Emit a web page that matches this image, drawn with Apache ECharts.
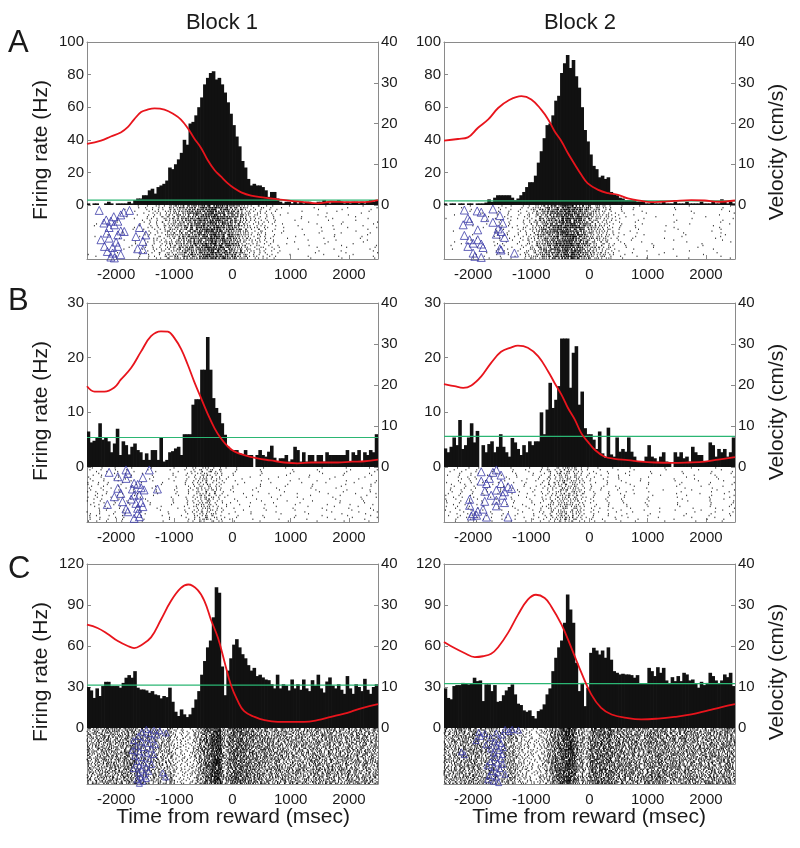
<!DOCTYPE html>
<html>
<head>
<meta charset="utf-8">
<script src="https://cdn.jsdelivr.net/npm/echarts@6/dist/echarts.min.js"></script>
<style>
html,body{margin:0;padding:0;background:#fff;}
#c{width:800px;height:848px;}
</style>
</head>
<body>
<div id="c"></div>
<script>
// ---- time base ----
const BIN = 50, T0 = -2500, T1 = 2500;
const xTickValues = [-2000, -1000, 0, 1000, 2000];

// ---- firing-rate histograms (Hz), 100 bins of 50 ms from -2500 ----
const histA1 = [1,0,1,1,0,0,1,2,1,0,1,1,1,1,2,1,
  3,4,4,6,6,9,10,7,11,12, 13,15,23,22,25,28,32,40,37,50, 51,55,60,66,74,78,81,82,77,78,
  74,69,63,56,49,42,36,27,23,16, 12,13,12,12,11,9,5,8,8,4,
  2,1,2,2,1,2,1,2,1,2, 2,1,1,2,2,3,2,1,2,2, 3,2,1,2,1,2,2,1,2,1, 2,3,2,3];
const histA2 = [1,0,1,1,0,1,1,0,1,1,0,1,1,1,
  1.5,3.5,2,4.5,6,6,6,6,6,4.5, 3,4,6,8,11,14,14,18,26,33, 41,49,50,55,64,67,81,87,92,84,
  89,79,72,60,46,39,31,24,22,17, 18,16,17,8,6.5,6,4.5,4,3,3, 3,3,2,2,2,
  1,1,2,1,1,1,2,1,1,1, 2,1,1,1,2,1,1,1,1,2, 1,1,1,2,1,1,3.5,2,1,2, 1];
const histB1 = [6.5,4.5,4.8,5.3,8,5,5.3,4.7,2.7,4.3, 7,2.2,4.7,4,2.3,3.7,4.3,3.1,2.7,1.3,
  2.5,1.3,3.1,3.1,1.3,5.4,1,1.3,2.7,2.9, 3.4,3.7,2.2,
  6,6,6,11.4,12.4,12.4,17.8,17.8,23.8,17.8,12.6,10.8,9.9,8,5.9,3.7,3.1,
  3.1,3.1,2.5,2.2,3.1,2.2,2.2,0,2.2,3.1, 2.2,1.9,2.8,3.9,1.7,1,1.6,1.6,2.2,1,
  1.4,3.7,3.1,1,2.7,1,2.2,2.2,1,2.2, 2.2,1,2.7,2.2,2.2,2.2,2.2,2.2,2.2,3.1,
  1,2.7,2.2,3.1,1,2.7,2.2,3.1,2.7,6];
const histB2 = [3.4,2.7,3.7,5.4,4,8.6,3.3,4,5.4,8, 4.5,6.6,0,4,2.7,4.2,4.7,2.7,3.7,6,
  3.7,2.7,1.9,5.3,4.5,3.3,2.2,4,2.7,4.7, 4,4.7,4.7,10,6,10.5,15.4,10.8,12.3,14.8,
  23.5,23.5,23.5,14.5,20.9,22.1,11.4,13.8,7.1,6, 6,5,3.3,6.5,2.5,1.7,7.2,2.3,1.9,5.4,
  2.8,3.3,2.8,5.4,2.8,1.9,1,1.1,1.1,1.9, 4,1.9,1.6,1,1.9,2.7,1,0.9,0,2.7,
  1.9,2.7,1.6,1.9,1,3.7,2.7,2.2,2.2,1, 1,4.5,4,1.9,3.3,2.7,3.3,1.9,2.7,5.4];
const histC1 = [30,27.5,22,29,23.4,30.7,33.8,33.8,30.7,30.7, 30.7,29.5,33,36.8,38.7,36.8,41.6,29.5,28.2,28.2,
  27.5,25.8,27,24.6,24,21.7,23.4,22.6,29.5,19.2, 11.9,8.8,13.6,10,8,10,14.8,20.9,27,
  39,49,59,64,81,103,99,45,24,42, 51,61,65,59,54,51,46,42,44,38, 39,
  37,35.5,35,32,29,39,29,32,31,27.5, 35.5,29,32,28,35.5,29,27,35,31,39,
  29,26,34,37,31,29,32,28,25,38, 29,25,32,30,27,36,28,25,30,32];
const histC2 = [29,22,21,30.7,31.4,31.4,33,32.4,31.9,32.4, 36.8,34.3,34.8,19.7,31.9,31.9,27,31.4,19.2,19.7,
  24,27.5,30,31.9,24.6,17.8,16.8,12.9,11.9,12.9, 8.8,7,12.4,13.6,17.3,24.6,29,41.6,51.4,59,
  64,77,97.6,86.7,77,47.7,27,33,16,29.5, 55,58.7,56.7,53.8,56.7,51.4,59,50,41.6,40.4,
  39.2,39.7,39.2,39.2,38.7,36.8,38.7,32.4,32.4,32.4, 44,41.6,38,44.5,40.4,44,34.8,32.4,37.2,34.3,
  38,34.3,40.4,39.2,34.8,35.5,32.4,29.5,33.8,31.4, 33,40.4,38,34.8,32.4,34.8,39.2,37.2,40.4,30.7];

// ---- velocity (cm/s) ----
const velTA1 = [-2500,-2260,-2090,-1920,-1800,-1690,-1570,-1460,-1340,-1170,-1000,-890,-770,-660,-540,-430,-310,-200,-80,30,150,320,550,780,1000,1230,1460,1690,1980,2270,2500];
const velVA1 = [15,15.8,16.8,17.8,19.1,21,22.8,23.4,23.7,23.4,22.2,21,18.9,16.4,14,11.1,8.6,7,5.3,4.1,3.1,2.3,1.8,1.4,1,0.7,0.4,0.8,0.7,0.7,1.2];
const velTA2 = [-2500,-2260,-2090,-1920,-1740,-1570,-1400,-1170,-1000,-830,-710,-600,-480,-370,-250,-140,-30,150,320,490,660,890,1060,1230,1460,1750,1980,2210,2500];
const velVA2 = [15.8,16.2,16.6,18.9,21,23.8,25.6,26.7,25.9,23.4,21,18.1,15.6,12.7,9.9,7.4,5.3,3.7,2.9,2.5,1.6,1,0.7,0.8,1,1.2,1.1,0.8,1.1];
const velTB1 = [-2500,-2370,-2200,-2030,-1920,-1740,-1570,-1400,-1230,-1110,-1000,-880,-770,-660,-540,-430,-310,-200,-80,30,200,430,660,890,1120,1350,1580,1810,2040,2270,2500];
const velVB1 = [19.7,18.4,18.4,19.4,21.3,24.2,28.2,31.9,33.1,33,31.5,28.7,25,20.9,16.8,13.1,9.5,7,5,3.8,2.9,2.1,1.6,1.1,0.9,1.1,1.1,1.1,1.3,1.4,1.8];
const velTB2 = [-2500,-2320,-2170,-2030,-1860,-1690,-1520,-1340,-1230,-1060,-880,-710,-600,-480,-370,-250,-140,-30,90,260,430,660,890,1120,1410,1690,1980,2210,2500];
const velVB2 = [20.2,19.7,19.3,19.9,22.1,25.4,28.1,29.2,29.6,29.1,27,23.3,20.5,17.6,14.4,11.5,8.2,6.2,4.2,2.5,2,1.7,1.3,1.1,1,1.1,1.3,1.8,2.4];
const velTC1 = [-2500,-2320,-2150,-1970,-1800,-1690,-1570,-1400,-1230,-1060,-890,-760,-600,-480,-370,-250,-140,-30,90,200,380,550,780,1000,1230,1460,1690,1920,2040,2210,2500];
const velVC1 = [25.2,24.4,23,21.2,20,19.5,20.2,22.1,26.4,30.9,34.1,35,33.7,30.9,26.4,22,16.3,10.6,6.6,4.1,2.7,1.9,1.5,1.5,1.5,1.9,2.7,3.5,4,4.8,5.8];
const velTC2 = [-2500,-2320,-2150,-1970,-1830,-1690,-1570,-1400,-1230,-1060,-920,-770,-660,-480,-310,-140,30,200,380,660,890,1180,1460,1750,2040,2270,2500];
const velVC2 = [21,19.5,18.3,17.3,17.5,18.1,19.7,23.2,27.6,31.3,32.5,31.7,29.7,25.2,19.5,13.5,8.2,4.9,3.3,2.4,2.1,2.3,2.7,3.3,4.3,5.1,5.8];

// ---- thresholds (Hz) ----
const thrA1 = 3, thrA2 = 2.5, thrB1 = 5.4, thrB2 = 5.6, thrC1 = 31.4, thrC2 = 32.4;

// ---- event markers [time ms, trial] ----
const triA1 = [[-2290,3],[-1770,3],[-1870,4],[-1920,5.5],[-2040,6.5],[-2170,8.3],[-2090,9],[-1970,9],[-2210,10],[-2030,11],[-2120,12.5],[-1920,14.4],[-1860,14.7],[-1600,12.5],[-2160,15.6],[-1970,16.6],[-1660,17.5],[-1490,16.6],[-2260,19.3],[-2120,18.4],[-2000,20.6],[-1540,20.2],[-2200,23],[-2060,23.6],[-1970,23],[-1630,24.3],[-1540,24.8],[-2150,25.8],[-2060,26.7],[-1920,27.6],[-2090,28.9],[-2030,29.4]];
const triA2 = [[-2150,2.8],[-1930,3.3],[-1860,4],[-1660,2.2],[-1800,7],[-2090,7.4],[-2060,8.8],[-1540,5.9],[-1660,9.6],[-2170,11],[-1490,10.1],[-1920,13.8],[-1570,13.3],[-1520,14.7],[-1600,16.2],[-2150,16.9],[-1460,18],[-2060,19.3],[-1920,19.3],[-2000,21.2],[-1860,21.7],[-2090,23],[-1830,23.6],[-1540,24.3],[-1520,25],[-2000,26.7],[-1290,26.7],[-1970,28.5],[-1860,29.1]];
const triB1 = [[-2120,2.9],[-1830,1.6],[-1800,3.5],[-1970,5.3],[-1830,6.2],[-1430,1.6],[-1540,5.8],[-1690,8.9],[-1630,9.5],[-1570,11.3],[-1520,12.5],[-1970,11.6],[-1720,12],[-1290,12],[-2030,16.2],[-1690,15.3],[-1920,14.4],[-1600,15.3],[-1740,17.5],[-1890,18.9],[-2150,20.4],[-1660,19.8],[-1570,19.3],[-1830,22.9],[-1630,22.5],[-1540,21.6],[-1800,24.4],[-1630,25.3],[-1600,27.1],[-1690,28]];
const triB2 = [[-1860,2.6],[-1600,1.6],[-1660,2.9],[-1720,6.2],[-1860,7.7],[-1520,4.4],[-1770,9],[-1520,9],[-1400,10.8],[-1340,11.7],[-1800,13.2],[-1600,12.6],[-1460,13.5],[-1690,15.4],[-1490,15.4],[-2060,17.6],[-1800,18.7],[-1600,18.1],[-1460,19.4],[-1600,21.2],[-1830,23],[-1920,24.1],[-2000,25.4],[-2030,26.7],[-1940,26.3],[-1770,27.3],[-1400,27.3],[-2060,20.9]];
const triC1 = [[-1480,1],[-1350,1.5],[-1250,2],[-1140,3.5],[-1560,3],[-1420,4],[-1300,5],[-1620,6],[-1500,7],[-1380,8],[-1700,9],[-1560,10],[-1440,11],[-1320,12],[-1650,13],[-1530,14],[-1400,15],[-1720,16],[-1600,17],[-1470,18],[-1350,19],[-1680,20],[-1560,21],[-1430,22],[-1640,24],[-1520,25],[-1390,26],[-1600,27],[-1480,28],[-1700,29],[-1560,30],[-1440,31],[-1620,32],[-1510,33],[-1200,32],[-1150,35],[-1580,35],[-1480,36],[-1640,37],[-1540,38],[-1600,39.5]];
const triC2 = [[-1450,1],[-1330,1],[-1220,1.5],[-1380,2.5],[-1900,3],[-1800,4],[-1600,3.5],[-1500,5],[-1870,6],[-1700,7],[-1560,8],[-1950,9],[-1640,10],[-1520,11],[-1780,12],[-1600,13],[-1480,14],[-1700,15],[-1560,16],[-2200,17],[-2150,19],[-1650,18],[-1500,19],[-1620,21],[-1520,22],[-1700,24],[-1580,25],[-1490,26],[-1760,27],[-1640,28],[-1540,29],[-1680,31],[-1580,32],[-1450,33],[-1720,34],[-1600,35],[-1750,37],[-1650,38],[-1560,39]];

// ---- trial counts ----
const nTrialsA = 30, nTrialsB = 30, nTrialsC = 40;

// Raster spikes: derived deterministically from each histogram (dithered spike counts per trial/bin,
// positions inside a bin scattered by an integer hash so no stripe pattern appears)
function hash01(a, b, c) {
  let h = (a * 374761393 + b * 668265263 + c * 2246822519) | 0;
  h = Math.imul(h ^ (h >>> 13), 1274126177);
  h = h ^ (h >>> 16);
  return (h >>> 0) / 4294967296;
}
function makeRaster(rates, nTr, seed) {
  const out = [];
  for (let k = 0; k < nTr; k++) {
    let acc = hash01(k, 7, seed);
    for (let i = 0; i < rates.length; i++) {
      acc += rates[i] * BIN / 1000 * (0.6 + 0.8 * hash01(k, i, seed + 99));
      let n = 0;
      while (acc >= 1) {
        const u = hash01(k * 131 + n, i, seed);
        out.push([T0 + (i + u) * BIN, k + 0.5]);
        acc -= 1; n++;
      }
    }
  }
  return out;
}
function pairs(t, v) { return t.map((x, i) => [x, v[i]]); }

const FONT = '"Liberation Sans", Arial, sans-serif';
const TXT = '#1a1a1a';
const AX = '#8a8a8a';
const RED = '#e8141c';
const GREEN = '#2bb673';
const BLUE = '#3b3ba8';

const colL = 87, colR = 444, colW = 291;
const panels = [
  {hist: histA1, vt: velTA1, vv: velVA1, thr: thrA1, tri: triA1, n: nTrialsA, ymax: 100, yint: 20, left: colL, top: 42, hh: 163, rh: 54, ts: 8},
  {hist: histA2, vt: velTA2, vv: velVA2, thr: thrA2, tri: triA2, n: nTrialsA, ymax: 100, yint: 20, left: colR, top: 42, hh: 163, rh: 54, ts: 8},
  {hist: histB1, vt: velTB1, vv: velVB1, thr: thrB1, tri: triB1, n: nTrialsB, ymax: 30, yint: 10, left: colL, top: 303, hh: 164, rh: 55, ts: 8},
  {hist: histB2, vt: velTB2, vv: velVB2, thr: thrB2, tri: triB2, n: nTrialsB, ymax: 30, yint: 10, left: colR, top: 303, hh: 164, rh: 55, ts: 8},
  {hist: histC1, vt: velTC1, vv: velVC1, thr: thrC1, tri: triC1, n: nTrialsC, ymax: 120, yint: 30, left: colL, top: 564, hh: 164, rh: 56, ts: 6},
  {hist: histC2, vt: velTC2, vv: velVC2, thr: thrC2, tri: triC2, n: nTrialsC, ymax: 120, yint: 30, left: colR, top: 564, hh: 164, rh: 56, ts: 6}
];

const binCats = histA1.map((_, i) => String(T0 + i * BIN));
const plain = v => String(v);
const labelStyle = {fontFamily: FONT, fontSize: 15, color: TXT, formatter: plain};
const axLine = () => ({show: true, onZero: false, lineStyle: {color: AX, width: 1}});

const grid = [], xAxis = [], yAxis = [], series = [];
panels.forEach((p, j) => {
  grid.push({left: p.left, top: p.top, width: colW, height: p.hh});
  grid.push({left: p.left, top: p.top + p.hh, width: colW, height: p.rh});
  const gH = 2 * j, gR = 2 * j + 1;
  // x axes
  xAxis.push({type: 'category', gridIndex: gH, data: binCats, show: false, boundaryGap: true});
  xAxis.push({type: 'value', gridIndex: gH, min: T0, max: T1, position: 'top',
    axisLine: axLine(), axisTick: {show: false}, axisLabel: {show: false}, splitLine: {show: false}});
  xAxis.push({type: 'value', gridIndex: gR, min: T0, max: T1, position: 'bottom',
    axisLine: axLine(),
    axisTick: {show: true, inside: true, length: 4, lineStyle: {color: AX}, customValues: xTickValues},
    axisLabel: Object.assign({show: true, margin: 8, customValues: xTickValues}, labelStyle),
    splitLine: {show: false}});
  // y axes
  yAxis.push({type: 'value', gridIndex: gH, min: 0, max: p.ymax, interval: p.yint, position: 'left',
    axisLine: axLine(), axisTick: {show: true, inside: true, length: 4, lineStyle: {color: AX}},
    axisLabel: Object.assign({margin: 3}, labelStyle), splitLine: {show: false}});
  yAxis.push({type: 'value', gridIndex: gH, min: 0, max: 40, interval: 10, position: 'right',
    axisLine: axLine(), axisTick: {show: true, inside: true, length: 4, lineStyle: {color: AX}},
    axisLabel: Object.assign({margin: 3}, labelStyle), splitLine: {show: false}});
  yAxis.push({type: 'value', gridIndex: gR, min: 0, max: p.n, inverse: true, position: 'left',
    axisLine: axLine(), axisTick: {show: false}, axisLabel: {show: false}, splitLine: {show: false}});
  yAxis.push({type: 'value', gridIndex: gR, min: 0, max: p.n, inverse: true, position: 'right',
    axisLine: axLine(), axisTick: {show: false}, axisLabel: {show: false}, splitLine: {show: false}});

  series.push({type: 'bar', xAxisIndex: 3 * j, yAxisIndex: 4 * j, data: p.hist, barWidth: 3.6,
    itemStyle: {color: '#111'}, z: 2, silent: true});
  series.push({type: 'line', xAxisIndex: 3 * j + 1, yAxisIndex: 4 * j, data: [[T0, p.thr], [T1, p.thr]],
    symbol: 'none', lineStyle: {color: GREEN, width: 1.2}, z: 3, silent: true});
  series.push({type: 'line', xAxisIndex: 3 * j + 1, yAxisIndex: 4 * j + 1, data: pairs(p.vt, p.vv),
    smooth: 0.4, symbol: 'none', lineStyle: {color: RED, width: 1.8}, z: 4, silent: true});
  series.push({type: 'scatter', xAxisIndex: 3 * j + 2, yAxisIndex: 4 * j + 2, data: makeRaster(p.hist, p.n, j + 1),
    symbol: 'rect', symbolSize: [1, 1.4], itemStyle: {color: '#000'}, large: true, largeThreshold: 300, z: 2, silent: true});
  series.push({type: 'scatter', xAxisIndex: 3 * j + 2, yAxisIndex: 4 * j + 2, data: p.tri,
    symbol: 'triangle', symbolSize: p.ts, itemStyle: {color: 'rgba(0,0,0,0)', borderColor: BLUE, borderWidth: 1}, z: 5, silent: true});
});

function txt(text, x, y, size, align, rot) {
  return {type: 'text', x: x, y: y, rotation: rot || 0, silent: true,
    style: {text: text, font: 'normal ' + size + 'px ' + FONT, fill: TXT, textAlign: align || 'center', textVerticalAlign: 'middle'}};
}
const R90 = Math.PI / 2;
const graphic = [
  txt('Block 1', 222, 23, 22), txt('Block 2', 580, 23, 22),
  txt('A', 8, 43, 31, 'left'), txt('B', 8, 301, 31, 'left'), txt('C', 8, 569, 31, 'left'),
  txt('Firing rate (Hz)', 41, 150, 21, 'center', R90),
  txt('Firing rate (Hz)', 41, 411, 21, 'center', R90),
  txt('Firing rate (Hz)', 41, 672, 21, 'center', R90),
  txt('Velocity (cm/s)', 777, 152, 21, 'center', R90),
  txt('Velocity (cm/s)', 777, 412, 21, 'center', R90),
  txt('Velocity (cm/s)', 777, 672, 21, 'center', R90),
  txt('Time from reward (msec)', 233, 817, 21), txt('Time from reward (msec)', 589, 817, 21)
];

const chart = echarts.init(document.getElementById('c'), null, {renderer: 'canvas'});
chart.setOption({
  animation: false,
  backgroundColor: '#fff',
  grid: grid, xAxis: xAxis, yAxis: yAxis, series: series, graphic: graphic
});
</script>
</body>
</html>
